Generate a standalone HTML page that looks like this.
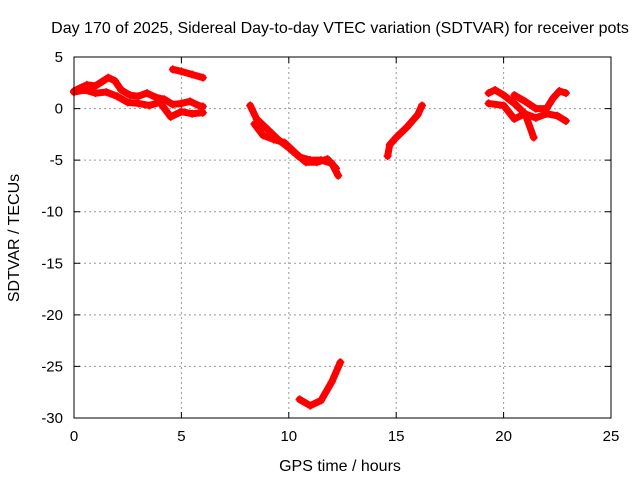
<!DOCTYPE html>
<html><head><meta charset="utf-8"><style>
body{margin:0;background:#fff}
svg text{font-family:"Liberation Sans",sans-serif;font-size:15px;fill:#000}
svg text.big{font-size:16px}
</style></head><body>
<svg id="chart" width="640" height="480" viewBox="0 0 640 480">
<text class="big" x="340" y="33" text-anchor="middle">Day 170 of 2025, Sidereal Day-to-day VTEC variation (SDTVAR) for receiver pots</text>
<text class="big" x="340" y="471" text-anchor="middle">GPS time / hours</text>
<text class="big" transform="translate(19,238) rotate(-90)" text-anchor="middle">SDTVAR / TECUs</text>
<g id="grid"></g><g id="marks"></g><g id="ticks"></g>
<rect x="74" y="57" width="537" height="361" fill="none" stroke="#000"/>
</svg>
<script>
const xTicks=[0,5,10,15,20,25];
const yTicks=[5,0,-5,-10,-15,-20,-25,-30];
const track1x=[0,0.3,0.6,1,1.3,1.6,1.9,2.2,2.6,3,3.4,3.8,4.2,4.6,5,5.4,5.8,6];
const track1y=[1.7,2,2.3,2.2,2.6,3,2.7,1.8,1.3,1.2,1.5,1.1,0.9,0.4,0.5,0.7,0.3,0.2];
const track2x=[0,0.5,1,1.5,2,2.5,3,3.5,4,4.5,5,5.5,6];
const track2y=[1.6,1.8,1.5,1.6,1.2,0.6,0.5,0.3,0.6,-0.8,-0.3,-0.5,-0.4];
const track3x=[4.6,5,5.5,6];
const track3y=[3.8,3.6,3.3,3];
const track4x=[8.2,8.5,9,9.5,10,10.5,11,11.5,12,12.3];
const track4y=[0.3,-1,-2,-3,-3.8,-4.7,-5,-5,-5.3,-6.5];
const track4bx=[8.4,8.8,9.3,9.8,10.3,10.8,11.3,11.8,12.2];
const track4by=[-1.5,-2.6,-3,-3.3,-4.3,-5.2,-5.2,-4.9,-5.8];
const track5x=[10.5,11,11.5,12,12.4];
const track5y=[-28.2,-28.8,-28.3,-26.5,-24.6];
const track6x=[14.6,14.7,15,15.5,16,16.2];
const track6y=[-4.6,-3.5,-2.8,-1.8,-0.6,0.3];
const track7x=[19.3,19.6,20,20.5,21,21.4];
const track7y=[1.5,1.8,1.3,0.5,-0.5,-2.8];
const track8x=[19.3,20,20.5,21,21.5,22,22.5,22.9];
const track8y=[0.5,0.3,-1,-0.5,-0.9,-0.5,-0.7,-1.2];
const track9x=[20.5,21,21.5,22,22.3,22.6,22.9];
const track9y=[1.3,0.7,0,0,1,1.7,1.5];
const tracksX=[track1x,track2x,track3x,track4x,track4bx,track5x,track6x,track7x,track8x,track9x];
const tracksY=[track1y,track2y,track3y,track4y,track4by,track5y,track6y,track7y,track8y,track9y];
const X0=74,X1=611,Y0=418,Y1=57;
const sx=v=>X0+(v-0)/(25-0)*(X1-X0);
const sy=v=>Y0-(v+30)/(35)*(Y0-Y1);
const NS="http://www.w3.org/2000/svg";
const g=document.getElementById('grid'),m=document.getElementById('marks'),t=document.getElementById('ticks');
function mk(tag,parent,attrs){const e=document.createElementNS(NS,tag);for(const k in attrs)e.setAttribute(k,attrs[k]);parent.appendChild(e);return e;}
xTicks.forEach(v=>{
  const x=sx(v);
  if(v>0&&v<25){const l=mk('line',g,{x1:x,x2:x,y1:Y1,y2:Y0,stroke:'#999','stroke-dasharray':'2,3'});
  
  }
  const tk=mk('path',t,{d:`M${x},${Y0}v-6M${x},${Y1}v6`,stroke:'#000'});
  
  
  const tx=mk('text',t,{x:x,y:Y0+23,'text-anchor':'middle'});tx.textContent=v;
  
  
});
yTicks.forEach(v=>{
  const y=sy(v);
  if(v<5&&v>-30){const l=mk('line',g,{x1:X0,x2:X1,y1:y,y2:y,stroke:'#999','stroke-dasharray':'2,3'});
  
  }
  const tk=mk('path',t,{d:`M${X0},${y}h6M${X1},${y}h-6`,stroke:'#000'});
  
  
  const tx=mk('text',t,{x:X0-11,y:y+5,'text-anchor':'end'});tx.textContent=v;
  
  
});
tracksX.forEach((xs,i)=>{
  const ys=tracksY[i];
  const pts=xs.map((x,j)=>sx(x)+','+sy(ys[j])).join(' ');
  const pl=mk('polyline',m,{points:pts,fill:'none',stroke:'#f00','stroke-width':7,'stroke-linejoin':'round','stroke-linecap':'round'});
  
  
  xs.forEach((x,j)=>{
    const px=sx(x),py=sy(ys[j]);
    const p=mk('path',m,{d:`M${px-4},${py}h8M${px},${py-4}v8`,stroke:'#f00','stroke-width':1.5});
    
    
  });
});
</script>
</body></html>
